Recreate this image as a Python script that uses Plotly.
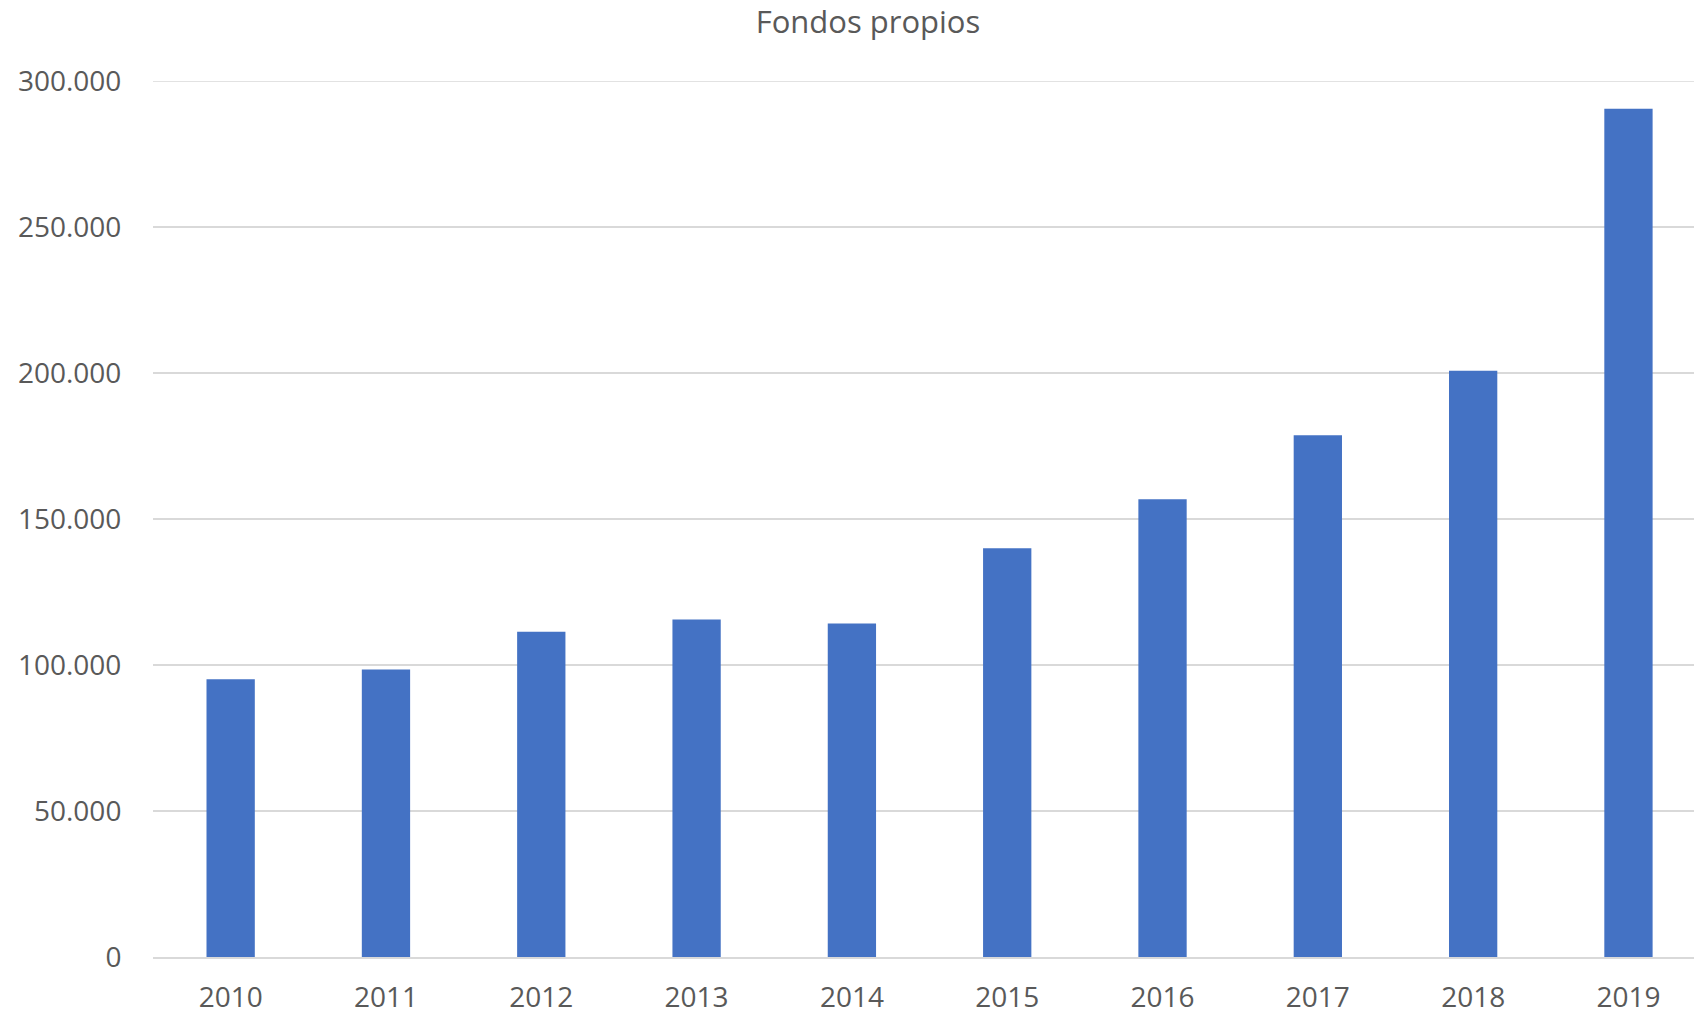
import plotly.graph_objects as go

years = ["2010", "2011", "2012", "2013", "2014", "2015", "2016", "2017", "2018", "2019"]
fondos_propios = [95100, 98500, 111400, 115600, 114200, 140000, 156800, 178700, 200800, 290500]
y_ticks = [0, 50000, 100000, 150000, 200000, 250000, 300000]

fig = go.Figure()
fig.add_trace(go.Bar(
    x=years,
    y=fondos_propios,
    marker=dict(color="#4472c4", line=dict(width=0)),
    width=0.311,
))

fig.update_layout(
    width=1694,
    height=1014,
    paper_bgcolor="white",
    plot_bgcolor="white",
    separators=",.",
    showlegend=False,
    margin=dict(l=153, r=0, t=81, b=57, pad=0, autoexpand=False),
    font=dict(family="Open Sans, DejaVu Sans, sans-serif", color="#595959", size=28),
    title=dict(
        text="Fondos propios",
        x=0.5124, xanchor="center", xref="container",
        y=0.9783, yanchor="middle", yref="container",
        font=dict(size=31, color="#595959"),
    ),
    shapes=[dict(
        type="line", xref="paper", yref="y",
        x0=0, x1=1, y0=y_ticks[-1], y1=y_ticks[-1],
        line=dict(color="#d9d9d9", width=1.5),
        layer="below",
    )],
)

fig.update_xaxes(
    type="category",
    range=[-0.5, 9.422],
    automargin=False,
    showgrid=False,
    showline=True,
    linecolor="#d9d9d9",
    linewidth=2,
    ticks="outside",
    ticklen=14,
    tickcolor="rgba(0,0,0,0)",
    tickfont=dict(size=28, color="#595959"),
)

fig.update_yaxes(
    range=[0, 300000],
    tickvals=y_ticks,
    tickformat=",d",
    automargin=False,
    showgrid=True,
    gridcolor="#d9d9d9",
    gridwidth=1.5,
    zeroline=False,
    showline=False,
    ticks="outside",
    ticklen=25,
    tickcolor="rgba(0,0,0,0)",
    tickfont=dict(size=28, color="#595959"),
)

fig.write_html(
    "out.html",
    config={"displayModeBar": False},
    post_script="document.body.style.margin='0px';",
)
